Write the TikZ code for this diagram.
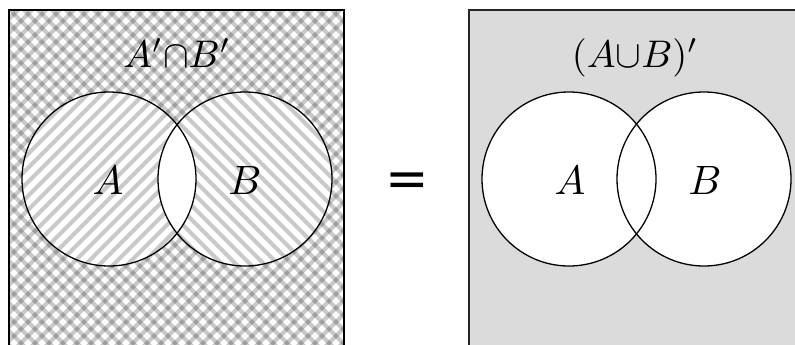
\documentclass[tikz,border=0pt]{standalone}
\usepackage{graphicx}
\usepackage{fontspec}
\newfontfamily\mysymf{DejaVu Sans}
\begin{document}
\begin{tikzpicture}[x=1pt,y=-1pt,
  hatch/.style={line width=4pt,black,opacity=0.21},
  setline/.style={line width=1.3pt,black},
  frame/.style={line width=1.6pt,black},
  lbl/.style={anchor=base,inner sep=0pt}]
\clip (0,0) rectangle (795,345);
\fill[white] (0,0) rectangle (795,345);
% centres
\coordinate (lA) at (109,179);
\coordinate (lB) at (245,179);
\coordinate (rA) at (569,179);
\coordinate (rB) at (704,179);
% ---------- left panel ----------
\begin{scope}
  \clip (9,10) rectangle (344,360);
  \foreach \c in {0,14,...,728} \draw[hatch] (\c,0) -- ++(-400,400);
  \foreach \c in {-406,-392,...,406} \draw[hatch] (\c,0) -- ++(400,400);
\end{scope}
\fill[white] (lA) circle (87);
\fill[white] (lB) circle (87);
\begin{scope}
  \clip (lA) circle (87);
  \foreach \c in {0,14,...,728} \draw[hatch] (\c,0) -- ++(-400,400);
\end{scope}
\begin{scope}
  \clip (lB) circle (87);
  \foreach \c in {-406,-392,...,406} \draw[hatch] (\c,0) -- ++(400,400);
\end{scope}
\begin{scope}
  \clip (lA) circle (87);
  \fill[white] (lB) circle (87);
\end{scope}
\draw[setline] (lA) circle (87);
\draw[setline] (lB) circle (87);
\draw[frame] (9,360) -- (9,10) -- (344,10) -- (344,360);
\node[lbl] (ttlL) at (177,67) {\scalebox{3.85}{$A'{\cap}B'$}};
\node[lbl] (labLA) at (108,194) {\scalebox{4.1}{$A$}};
\node[lbl] (labLB) at (245,194) {\scalebox{4.1}{$B$}};
% ---------- equals ----------
\node[anchor=base,inner sep=0pt,font=\mysymf\fontsize{52}{60}\selectfont] (eq) at (407,196) {=};
% ---------- right panel ----------
\fill[black!14] (469,10) rectangle (810,360);
\draw[frame,line width=1.4pt,black!85] (469,360) -- (469,10) -- (810,10);
\fill[white] (rA) circle (87);
\fill[white] (rB) circle (87);
\draw[setline] (rA) circle (87);
\draw[setline] (rB) circle (87);
\node[lbl] (ttlR) at (635,67) {\scalebox{3.85}{$(A{\cup}B)'$}};
\node[lbl] (labRA) at (570,194) {\scalebox{4.1}{$A$}};
\node[lbl] (labRB) at (705,194) {\scalebox{4.1}{$B$}};
\end{tikzpicture}
\end{document}
